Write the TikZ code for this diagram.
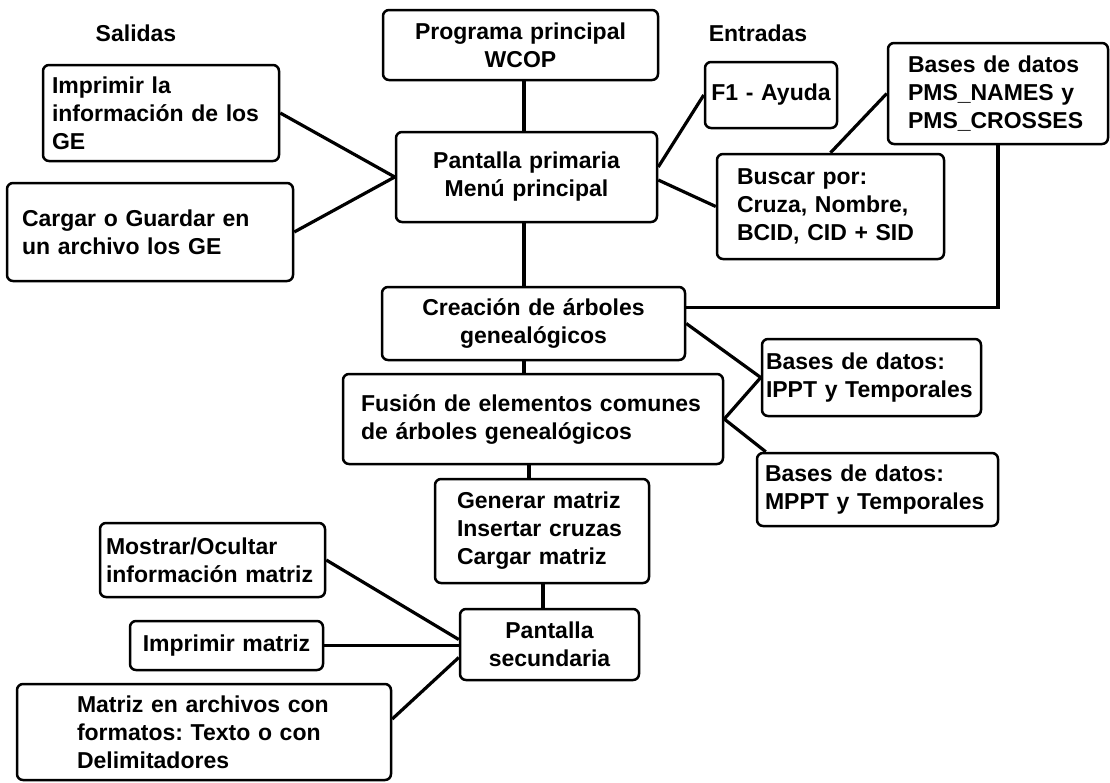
\documentclass[tikz,border=0pt]{standalone}
\usepackage{fontspec}
\setmainfont{Liberation Sans}
\frenchspacing

\begin{document}
\begin{tikzpicture}[x=1pt,y=-1pt,
	txt/.style={font=\bfseries\fontsize{23}{28}\selectfont},
	blk/.style={txt,draw,line width=2.5pt,rounded corners=6pt,inner ysep=0pt,align=center},
	lblk/.style={blk,align=left},
	lnk/.style={line width=3.2pt}]
\useasboundingbox (0,0) rectangle (1110,782);

\node[txt] (sal) at (136,33) {Salidas};
\node[txt] (ent) at (758,33) {Entradas};

\node[blk,text width=259pt,inner xsep=8pt,minimum height=70pt] (prog) at (520.5,45) {Programa principal\\WCOP};
\node[blk,text width=245pt,inner xsep=8pt,minimum height=90pt] (pant1) at (526.5,177) {Pantalla primaria\\Men\'u principal};
\node[lblk,text width=218pt,inner xsep=9pt,minimum height=96pt] (imp) at (161,113) {Imprimir la\\informaci\'on de los\\GE};
\node[lblk,text width=256pt,inner xsep=15pt,minimum height=98pt] (carg) at (150,232) {Cargar o Guardar en\\un archivo los GE};
\node[blk,text width=120pt,inner xsep=6pt,minimum height=66pt] (f1) at (771,95) {F1 - Ayuda};
\node[lblk,text width=180pt,inner xsep=20pt,minimum height=101pt] (pms) at (998,93.5) {Bases de datos\\PMS\_NAMES y\\PMS\_CROSSES};
\node[lblk,text width=187pt,inner xsep=20pt,minimum height=105pt] (busc) at (830.5,206.5) {Buscar por:\\Cruza, Nombre,\\BCID, CID + SID};
\node[blk,text width=287pt,inner xsep=8pt,minimum height=73pt] (crea) at (533.5,323.5) {Creaci\'on de \'arboles\\geneal\'ogicos};
\node[lblk,text width=344pt,inner xsep=18pt,minimum height=90pt] (fus) at (533,419) {Fusi\'on de elementos comunes\\de \'arboles geneal\'ogicos};
\node[lblk,text width=211pt,inner xsep=4pt,minimum height=77pt] (ippt) at (871.5,377.5) {Bases de datos:\\IPPT y Temporales};
\node[lblk,text width=225pt,inner xsep=8pt,minimum height=73pt] (mppt) at (877.5,489.5) {Bases de datos:\\MPPT y Temporales};
\node[lblk,text width=170pt,inner xsep=22pt,minimum height=104pt] (gen) at (542,531) {Generar matriz\\Insertar cruzas\\Cargar matriz};
\node[blk,text width=163pt,inner xsep=8pt,minimum height=71pt] (pant2) at (549.5,644.5) {Pantalla\\secundaria};
\node[lblk,text width=213pt,inner xsep=6pt,minimum height=74pt] (most) at (212.5,560) {Mostrar/Ocultar\\informaci\'on matriz};
\node[blk,text width=177pt,inner xsep=8pt,minimum height=49pt] (impm) at (226.5,645.5) {Imprimir matriz};
\node[lblk,text width=254pt,inner xsep=60pt,minimum height=96pt] (matr) at (204,732) {Matriz en archivos con\\formatos: Texto o con\\Delimitadores};

\coordinate (spine) at (524,0);
\coordinate (spine2) at (529,0);
\coordinate (spine3) at (543,0);

\draw[lnk] (spine |- prog.south) -- (spine |- pant1.north);
\draw[lnk] (spine |- pant1.south) -- (spine |- crea.north);
\draw[lnk] (spine |- crea.south) -- (spine |- fus.north);
\draw[lnk] (spine2 |- fus.south) -- (spine2 |- gen.north);
\draw[lnk] (spine3 |- gen.south) -- (spine3 |- pant2.north);

\draw[lnk] (imp.east) -- (pant1.west);
\draw[lnk] (carg.east) -- (pant1.west);
\draw[lnk] ([yshift=10pt]pant1.east) -- (f1.west);
\draw[lnk] ([yshift=-3pt]pant1.east) -- (busc.west);
\draw[lnk] (busc.north) -- (pms.west);
\draw[lnk] (pms.south) |- ([yshift=16pt]crea.east);
\draw[lnk] (crea.east) -- (ippt.west);
\draw[lnk] (fus.east) -- (ippt.west);
\draw[lnk] (fus.east) -- ([xshift=10pt]mppt.north west);

\draw[lnk] (most.east) -- ([yshift=5pt]pant2.west);
\draw[lnk] (impm.east) -- (impm.east -| pant2.west);
\draw[lnk] ([yshift=13pt]matr.east) -- ([yshift=-13pt]pant2.west);
\end{tikzpicture}
\end{document}
